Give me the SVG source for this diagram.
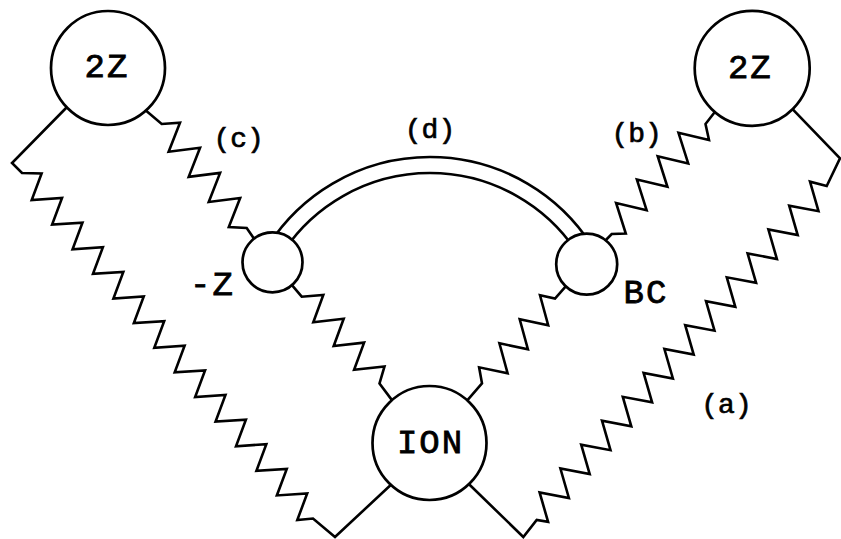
<svg xmlns="http://www.w3.org/2000/svg" width="841" height="539" viewBox="0 0 841 539">
<style>
  .ln { fill: none; stroke: #000; stroke-width: 2.6; stroke-linejoin: miter; stroke-linecap: round; }
  .nd { fill: #fff; stroke: #000; stroke-width: 2.7; }
  .big { font-family: "Liberation Mono", "DejaVu Sans Mono", monospace; font-size: 34px; text-anchor: middle; letter-spacing: 2px; fill: #000; stroke: #000; stroke-width: 0.8px; }
  .lab { font-family: "Liberation Mono", "DejaVu Sans Mono", monospace; font-size: 28px; text-anchor: middle; letter-spacing: 0px; fill: #000; stroke: #000; stroke-width: 0.7px; }
</style>
<rect width="841" height="539" fill="#fff"/>
<g id="connectors">
  <!-- left outer chain: 2Z (left) to ION -->
  <polyline class="ln" points="69,105 12,163 22,173 41.6,173.4 31.7,200 62.03,198.02 52.13,224.62 82.46,222.64 72.56,249.24 102.89,247.26 92.99,273.86 123.32,271.88 113.42,298.48 143.75,296.5 133.85,323.1 164.18,321.12 154.28,347.72 184.61,345.74 174.71,372.34 205.04,370.36 195.14,396.96 225.47,394.98 215.57,421.58 245.9,419.6 236,446.2 266.33,444.22 256.43,470.82 286.76,468.84 276.86,495.44 307.19,493.46 297.29,520.06 313,518.5 335,537 395,481"/>
  <!-- right outer chain (a): 2Z (right) to ION -->
  <polyline class="ln" points="789.4,105.9 840,158.3 826.7,186 810,181.7 818.5,211.2 789.2,205.6 797.7,235.1 768.4,229.5 776.9,259 747.6,253.4 756.1,282.9 726.8,277.3 735.3,306.8 706,301.2 714.5,330.7 685.2,325.1 693.7,354.6 664.4,349 672.9,378.5 643.6,372.9 652.1,402.4 622.8,396.8 631.3,426.3 602,420.7 610.5,450.2 581.2,444.6 589.7,474.1 560.4,468.5 568.9,498 539.6,492.4 548.1,521.9 536.7,520 523.3,537 466.5,481.7"/>
  <!-- chain (c): 2Z (left) to -Z -->
  <polyline class="ln" points="142,107.3 161.7,124 180,122.7 168.65,151.8 200.05,147.8 188.7,176.9 220.1,172.9 208.75,202 240.15,198 228.8,227.1 246.7,228 256.3,241.9"/>
  <!-- chain (b): 2Z (right) to BC -->
  <polyline class="ln" points="716,110.5 705.5,124 709,140 678.5,132.8 688.2,163.4 657.7,156.2 667.4,186.8 636.9,179.6 646.6,210.2 616.1,203 625.8,233.6 611.7,234 603,243"/>
  <!-- chain: -Z to ION -->
  <polyline class="ln" points="289,281.7 301.7,296.7 323.3,295 313.3,322.2 343.7,318.8 333.7,346 364.1,342.6 354.1,369.8 384.5,366.4 379.5,383.5 394.2,403.1"/>
  <!-- chain: BC to ION -->
  <polyline class="ln" points="567.5,284.3 555,298.5 540,295.3 548.2,325.2 519.7,319.3 527.9,349.2 499.4,343.3 507.6,373.2 479.1,367.3 482,383.3 463.8,404.3"/>
  <!-- (d): double arc between -Z and BC -->
  <path class="ln" d="M 268.6 245 A 192 192 0 0 1 591.4 245"/>
  <path class="ln" d="M 284.5 250 A 176 176 0 0 1 575.5 250"/>
</g>
<g id="node-2z-left">
  <circle class="nd" cx="108" cy="68" r="57"/>
  <text class="big" x="107" y="77">2Z</text>
</g>
<g id="node-2z-right">
  <circle class="nd" cx="752.2" cy="68.3" r="57.5"/>
  <text class="big" x="750.3" y="78">2Z</text>
</g>
<g id="node-minus-z">
  <circle class="nd" cx="272.5" cy="262.3" r="30"/>
  <text class="big" x="212.5" y="295">-Z</text>
</g>
<g id="node-bc">
  <circle class="nd" cx="586.7" cy="264.2" r="30.5"/>
  <text class="big" x="646" y="303">BC</text>
</g>
<g id="node-ion">
  <circle class="nd" cx="429.5" cy="443" r="57"/>
  <text class="big" x="430.5" y="453">ION</text>
</g>
<g id="labels">
  <text class="lab" x="238.7" y="146.5">(c)</text>
  <text class="lab" x="636.7" y="142">(b)</text>
  <text class="lab" x="430" y="137.5">(d)</text>
  <text class="lab" x="726.5" y="412.5">(a)</text>
</g>
</svg>
